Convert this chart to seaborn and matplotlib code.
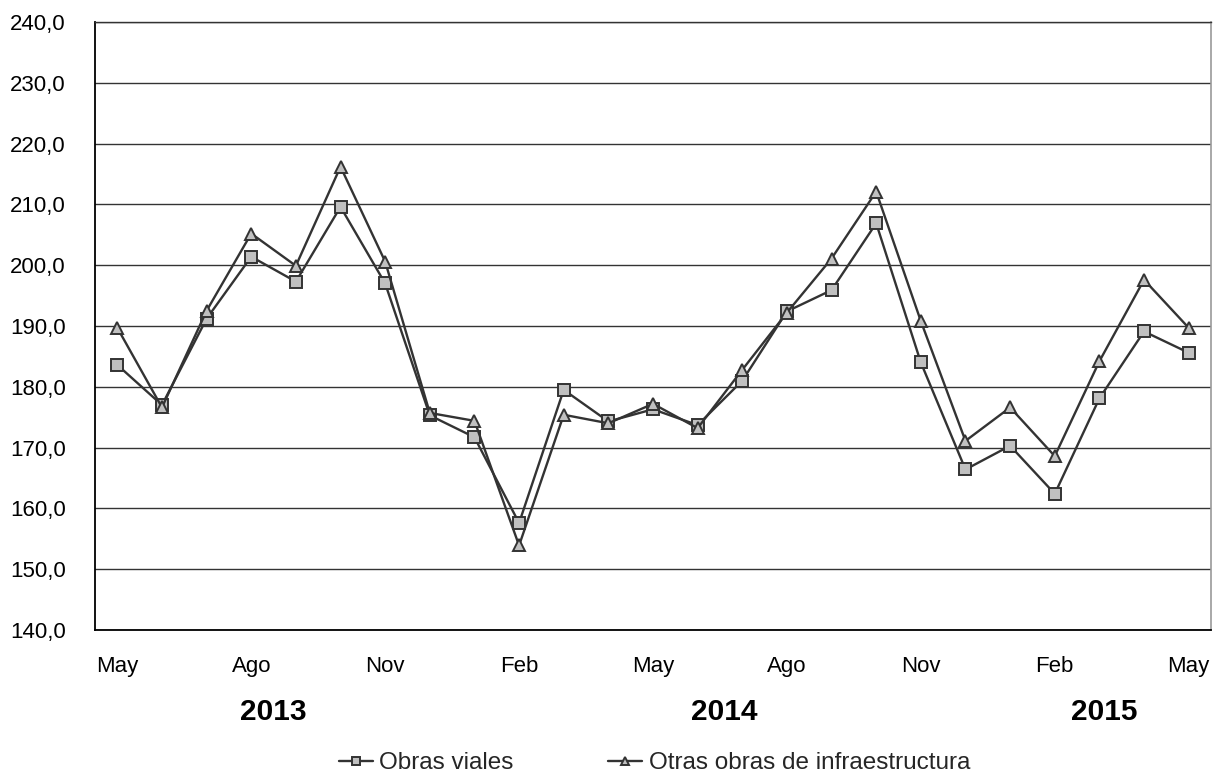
import matplotlib
matplotlib.use("Agg")
import matplotlib.pyplot as plt
import matplotlib.ticker as mticker
import seaborn as sns
import pandas as pd
import numpy as np

months = ["May", "Jun", "Jul", "Ago", "Sep", "Oct", "Nov", "Dic", "Ene", "Feb", "Mar", "Abr",
          "May", "Jun", "Jul", "Ago", "Sep", "Oct", "Nov", "Dic", "Ene", "Feb", "Mar", "Abr", "May"]
obras_viales = [183.6, 177.0, 191.2, 201.4, 197.3, 209.6, 197.0, 175.3, 171.7, 157.6, 179.5, 174.3,
                176.3, 173.7, 181.0, 192.4, 195.9, 206.9, 184.0, 166.4, 170.3, 162.4, 178.1, 189.1, 185.6]
otras_obras = [189.7, 176.6, 192.5, 205.2, 199.9, 216.2, 200.6, 175.7, 174.4, 153.9, 175.4, 174.0,
               177.2, 173.2, 182.8, 192.2, 201.1, 212.1, 190.8, 171.1, 176.6, 168.6, 184.2, 197.6, 189.7]
series_names = ["Obras viales", "Otras obras de infraestructura"]
year_labels = ["2013", "2014", "2015"]
year_pos = [3.5, 13.6, 22.1]
y_ticks = list(range(140, 241, 10))

sns.set_theme(style="white")
plt.rcParams['font.family'] = ['Liberation Sans', 'DejaVu Sans']

idx = list(range(len(months)))
df = pd.DataFrame({
    "x": idx * 2,
    "value": obras_viales + otras_obras,
    "serie": [series_names[0]] * len(idx) + [series_names[1]] * len(idx),
})

fig = plt.figure(figsize=(12.13, 7.76), dpi=100)
ax = fig.add_axes([95 / 1213, 1 - 630 / 776, (1211 - 95) / 1213, (630 - 22) / 776])

line_col = "#333333"
sns.lineplot(data=df[df.serie == series_names[0]], x="x", y="value", ax=ax,
             color=line_col, lw=1.7, marker="s", markersize=9, markerfacecolor="#C0C0C0",
             markeredgecolor=line_col, markeredgewidth=1.4, label=series_names[0], zorder=3)
sns.lineplot(data=df[df.serie == series_names[1]], x="x", y="value", ax=ax,
             color=line_col, lw=1.7, marker="^", markersize=8, markerfacecolor="#C0C0C0",
             markeredgecolor=line_col, markeredgewidth=1.4, label=series_names[1], zorder=3)

ax.set_xlim(-0.5, len(months) - 0.5)
ax.set_ylim(140, 240)
ax.set_yticks(y_ticks)
ax.yaxis.set_major_formatter(mticker.FuncFormatter(lambda v, p: f"{v:.1f}".replace(".", ",")))
ax.grid(axis="y", color="#333333", lw=1.0)
ax.set_axisbelow(True)

major = list(range(0, len(months), 3))
ax.set_xticks(major)
ax.set_xticklabels([months[i] for i in major])
ax.set_xticks(np.arange(-0.5, len(months), 1.0), minor=True)
ax.tick_params(axis="x", which="major", length=0, pad=19, labelsize=16, colors="black")
ax.tick_params(axis="x", which="minor", length=8, width=1.2, color="#333333", direction="out")
ax.tick_params(axis="y", which="major", length=9, width=1.2, color="#333333", direction="out",
               pad=12, labelsize=16, labelcolor="black")
ax.set_xlabel("")
ax.set_ylabel("")

for s in ["left", "bottom"]:
    ax.spines[s].set_color("black")
    ax.spines[s].set_linewidth(1.3)
ax.spines["right"].set_color("#999999")
ax.spines["right"].set_linewidth(1.2)
ax.spines["top"].set_color("#333333")
ax.spines["top"].set_linewidth(1.0)

for lbl, xp in zip(year_labels, year_pos):
    ax.text(xp, -0.135, lbl, transform=ax.get_xaxis_transform(), ha="center", va="center",
            fontsize=21.5, fontweight="bold", color="black")

ax.get_legend().remove()
handles, labels = ax.get_legend_handles_labels()
fig.legend(handles, labels, loc="center", bbox_to_anchor=(0.5396, 1 - 763 / 776), ncol=2,
           frameon=False, fontsize=17.5, handlelength=1.4, handletextpad=0.25, columnspacing=3.9,
           markerscale=0.7, borderpad=0.1)

fig.savefig("out.png", dpi=100, facecolor="white")
